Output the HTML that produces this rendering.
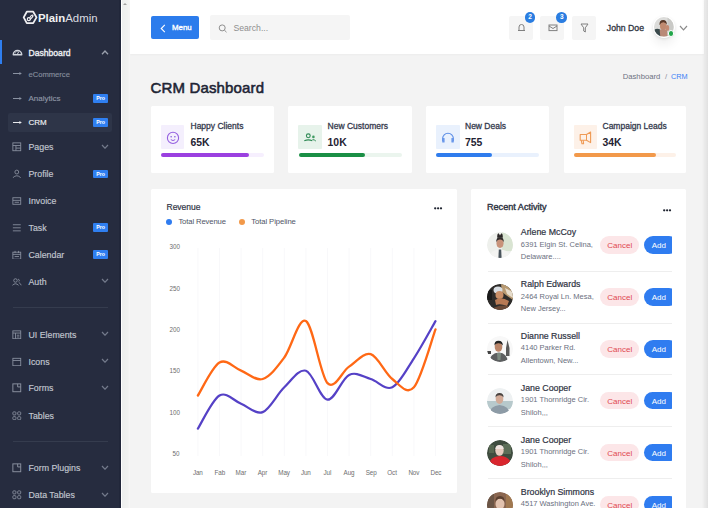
<!DOCTYPE html>
<html><head><meta charset="utf-8">
<style>
*{margin:0;padding:0;box-sizing:border-box}
html,body{width:708px;height:508px;overflow:hidden;background:#f3f3f3;font-family:"Liberation Sans",sans-serif}
.a{position:absolute}
.t{position:absolute;line-height:1;white-space:nowrap}
#sb{left:0;top:0;width:121px;height:508px;background:#262c3f;border-right:2px solid #21273a}
#trk{left:121px;top:0;width:9px;height:508px;background:linear-gradient(to right,#edefee,#f1f2f1 70%,#f7f7f7);border-left:1px solid #fff}
.mi{color:#c2c7d0;font-size:8.8px;left:28.5px;-webkit-text-stroke:.15px currentColor}
.ic{position:absolute;left:12.4px;width:9.6px;height:9.6px;margin-top:.7px}
.ar{position:absolute;left:12.5px;width:9px;height:11px}
.chev{position:absolute;left:101px;width:8px;height:5px}
.pro{position:absolute;left:93.2px;width:14.8px;height:8.6px;margin-top:.3px;background:#2f7ff0;border-radius:1px;color:#fff;font-size:5.3px;font-weight:bold;line-height:8.6px;text-align:center}
.div{position:absolute;left:13px;width:95px;height:1px;background:#353c4e}
#hdr{left:130px;top:0;width:574px;height:54px;background:#fff;box-shadow:0 1px 2px rgba(0,0,0,.03)}
#rs{left:702px;top:0;width:6px;height:508px;background:linear-gradient(to right,rgba(0,0,0,0),rgba(0,0,0,.035) 40%,rgba(0,0,0,.075))}
.card{position:absolute;background:#fff;border-radius:1.5px}
.ibox{position:absolute;width:23.5px;height:23.5px;border-radius:1px;margin-top:-.3px}
.st{font-size:8.5px;color:#363b4e;-webkit-text-stroke:.3px #363b4e}
.sv{font-size:10.4px;margin-top:1.5px;color:#1f2333;font-weight:bold}
.pb{position:absolute;height:3.5px;border-radius:2px}
.name{font-size:8.8px;color:#2f3443;left:520.8px;margin-top:.6px;-webkit-text-stroke:.2px #2f3443}
.addr{font-size:7.5px;color:#6b7080;left:520.8px}
.cancel{position:absolute;left:600.3px;width:39px;height:17.6px;margin-top:-.2px;border-radius:9px;background:#fce6e8;color:#e04850;font-size:8px;text-align:center;line-height:19px}
.add{position:absolute;left:643.7px;width:34px;height:17.6px;margin-top:-.2px;border-radius:9px;background:#2f7cf0;color:#fff;font-size:8px;text-align:left;padding-left:8px;line-height:19px}
.sep{position:absolute;left:487.5px;width:184px;height:1px;background:#eeeeee}
.av{position:absolute;left:486.5px;width:26px;height:26px;border-radius:50%}
.ml{font-size:6.3px;color:#6e6e6e;letter-spacing:-.1px}
</style></head><body>

<!-- sidebar -->
<div id="sb" class="a"></div>
<div id="trk" class="a"><div class="a" style="left:1.2px;top:3.3px;width:0;height:0;border-left:2.2px solid transparent;border-right:2.2px solid transparent;border-bottom:2.6px solid #a0a0a0"></div></div>

<!-- logo -->
<svg class="a" style="left:22px;top:10px" width="16" height="15" viewBox="0 0 16 15">
<path d="M4.8 1.7 L11.2 1.7 L14.5 7.4 L11.2 13.1 L4.8 13.1 L1.7 7.4 Z" fill="none" stroke="#f0f0f2" stroke-width="1.8" stroke-linejoin="round"/>
<circle cx="6.8" cy="9.2" r="1.5" fill="none" stroke="#f0f0f2" stroke-width="1.2"/>
<path d="M7.6 8 Q9 5.2 10.2 5 Q11.2 5.2 10.8 6.4 Q10 7.8 8 9.6" fill="none" stroke="#f0f0f2" stroke-width="1.2"/>
</svg>
<div class="t" style="left:38px;top:12.5px;font-size:11.4px;color:#f2f2f2;"><b>Plain</b><span style="color:#dcdde2">Admin</span></div>

<!-- active bar -->
<div class="a" style="left:0;top:40px;width:2px;height:24px;background:#2f7ff0"></div>
<svg class="ic" style="top:46px;left:12px;width:11px;height:11px;margin-top:0" viewBox="0 0 11 11"><path d="M1.3 8.8 A4.2 4.2 0 0 1 9.7 8.8 Z" fill="none" stroke="#d0d4dc" stroke-width="1.5" stroke-linejoin="round"/><path d="M5.5 8 L6.8 5.6" stroke="#d0d4dc" stroke-width="1"/><circle cx="3.6" cy="6.8" r=".5" fill="#d0d4dc"/><circle cx="5" cy="5.4" r=".5" fill="#d0d4dc"/></svg>
<div class="t mi" style="top:48.5px;font-size:8.6px;color:#eceef2;-webkit-text-stroke:.35px #eceef2">Dashboard</div>
<svg class="chev" style="top:49.5px" viewBox="0 0 8 5"><path d="M1 4.3 L4 1 L7 4.3" fill="none" stroke="#9aa0ad" stroke-width="1.3"/></svg>

<svg class="ar" style="top:68px" viewBox="0 0 9 11"><path d="M0 5.5 H7.5" stroke="#8a92a2" stroke-width="1"/><path d="M6.4 3.9 L8.8 5.5 L6.4 7.1 Z" fill="#8a92a2"/></svg>
<div class="t mi" style="top:71.3px;font-size:7.6px;color:#858d9c">eCommerce</div>

<svg class="ar" style="top:93px" viewBox="0 0 9 11"><path d="M0 5.5 H7.5" stroke="#8a92a2" stroke-width="1"/><path d="M6.4 3.9 L8.8 5.5 L6.4 7.1 Z" fill="#8a92a2"/></svg>
<div class="t mi" style="top:95.1px;font-size:8px;color:#8f97a6">Analytics</div>
<div class="pro" style="top:93.9px">Pro</div>

<div class="a" style="left:8px;top:113.4px;width:104px;height:18.6px;background:#2e3548;border-radius:2px"></div>
<svg class="ar" style="top:117px" viewBox="0 0 9 11"><path d="M0 5.5 H7.5" stroke="#e8eaee" stroke-width="1"/><path d="M6.4 3.9 L8.8 5.5 L6.4 7.1 Z" fill="#e8eaee"/></svg>
<div class="t mi" style="top:119.2px;font-size:8px;color:#f0f2f5">CRM</div>
<div class="pro" style="top:118px">Pro</div>

<!-- Pages -->
<svg class="ic" style="top:141.5px" viewBox="0 0 11 11"><rect x="1" y="1" width="9" height="9" fill="none" stroke="#8a91a0" stroke-width="1"/><path d="M1 4 H10 M4.5 4 V10 M4.5 7 H10" stroke="#8a91a0" stroke-width="1"/></svg>
<div class="t mi" style="top:143.2px">Pages</div>
<svg class="chev" style="top:143.7px" viewBox="0 0 8 5"><path d="M1 1 L4 4.2 L7 1" fill="none" stroke="#737a8b" stroke-width="1.2"/></svg>

<svg class="ic" style="top:168.2px" viewBox="0 0 11 11"><circle cx="5.5" cy="3.5" r="2.2" fill="none" stroke="#8a91a0" stroke-width="1"/><path d="M1 10 Q5.5 5.5 10 10" fill="none" stroke="#8a91a0" stroke-width="1"/></svg>
<div class="t mi" style="top:169.9px">Profile</div>
<div class="pro" style="top:169.3px">Pro</div>

<svg class="ic" style="top:195.3px" viewBox="0 0 11 11"><rect x="1" y="2" width="9" height="7.5" fill="none" stroke="#8a91a0" stroke-width="1"/><path d="M1 5 H10 M3 7.2 H8" stroke="#8a91a0" stroke-width="1"/></svg>
<div class="t mi" style="top:197.0px">Invoice</div>

<svg class="ic" style="top:222px" viewBox="0 0 11 11"><path d="M1 2 H10 M1 5.5 H10 M1 9 H10" stroke="#8a91a0" stroke-width="1"/></svg>
<div class="t mi" style="top:223.7px">Task</div>
<div class="pro" style="top:222.7px">Pro</div>

<svg class="ic" style="top:249px" viewBox="0 0 11 11"><rect x="1" y="2.5" width="9" height="8" fill="none" stroke="#8a91a0" stroke-width="1"/><path d="M1 5 H10 M3.5 1 V3.5 M7.5 1 V3.5 M3 7.5 H8" stroke="#8a91a0" stroke-width="1"/></svg>
<div class="t mi" style="top:250.8px">Calendar</div>
<div class="pro" style="top:249.7px">Pro</div>

<svg class="ic" style="top:276.2px" viewBox="0 0 11 11"><circle cx="4" cy="4" r="2" fill="none" stroke="#8a91a0" stroke-width="1"/><path d="M0.5 9.5 Q4 6 7.5 9.5 M7 2.5 A1.6 1.6 0 0 1 7.5 5.5 M8 6.5 Q10 7.5 10.5 9.5" fill="none" stroke="#8a91a0" stroke-width="1"/></svg>
<div class="t mi" style="top:277.9px">Auth</div>
<svg class="chev" style="top:278.4px" viewBox="0 0 8 5"><path d="M1 1 L4 4.2 L7 1" fill="none" stroke="#737a8b" stroke-width="1.2"/></svg>

<div class="div" style="top:307px"></div>

<svg class="ic" style="top:329px" viewBox="0 0 11 11"><rect x="1" y="1" width="9" height="9" fill="none" stroke="#8a91a0" stroke-width="1"/><path d="M1 3.5 H10 M4 3.5 V10 M5.5 6 H8.5 M5.5 8 H8.5" stroke="#8a91a0" stroke-width="1"/></svg>
<div class="t mi" style="top:330.8px">UI Elements</div>
<svg class="chev" style="top:331.3px" viewBox="0 0 8 5"><path d="M1 1 L4 4.2 L7 1" fill="none" stroke="#737a8b" stroke-width="1.2"/></svg>

<svg class="ic" style="top:356.2px" viewBox="0 0 11 11"><rect x="1" y="1.5" width="9" height="8.5" fill="none" stroke="#8a91a0" stroke-width="1"/><path d="M1 4 H10" stroke="#8a91a0" stroke-width="1"/></svg>
<div class="t mi" style="top:357.9px">Icons</div>
<svg class="chev" style="top:358.4px" viewBox="0 0 8 5"><path d="M1 1 L4 4.2 L7 1" fill="none" stroke="#737a8b" stroke-width="1.2"/></svg>

<svg class="ic" style="top:382.3px" viewBox="0 0 11 11"><rect x="1" y="1" width="9" height="9" fill="none" stroke="#8a91a0" stroke-width="1.1"/><path d="M6.5 1 V4.5 H10" fill="none" stroke="#8a91a0" stroke-width="1.1"/></svg>
<div class="t mi" style="top:384.0px">Forms</div>
<svg class="chev" style="top:384.5px" viewBox="0 0 8 5"><path d="M1 1 L4 4.2 L7 1" fill="none" stroke="#737a8b" stroke-width="1.2"/></svg>

<svg class="ic" style="top:409.9px" viewBox="0 0 11 11"><rect x="1" y="1" width="3.5" height="3.5" rx="1" fill="none" stroke="#8a91a0" stroke-width="1"/><rect x="6.5" y="1" width="3.5" height="3.5" rx="1" fill="none" stroke="#8a91a0" stroke-width="1"/><rect x="1" y="6.5" width="3.5" height="3.5" rx="1" fill="none" stroke="#8a91a0" stroke-width="1"/><rect x="6.5" y="6.5" width="3.5" height="3.5" rx="1" fill="none" stroke="#8a91a0" stroke-width="1"/></svg>
<div class="t mi" style="top:411.6px">Tables</div>

<div class="div" style="top:441px"></div>

<svg class="ic" style="top:462.6px" viewBox="0 0 11 11"><rect x="1" y="1" width="9" height="9" fill="none" stroke="#8a91a0" stroke-width="1.1"/><path d="M6.5 1 V4.5 H10" fill="none" stroke="#8a91a0" stroke-width="1.1"/></svg>
<div class="t mi" style="top:464.3px">Form Plugins</div>
<svg class="chev" style="top:464.8px" viewBox="0 0 8 5"><path d="M1 1 L4 4.2 L7 1" fill="none" stroke="#737a8b" stroke-width="1.2"/></svg>

<svg class="ic" style="top:489.4px" viewBox="0 0 11 11"><rect x="1" y="1" width="3.5" height="3.5" rx="1" fill="none" stroke="#8a91a0" stroke-width="1"/><rect x="6.5" y="1" width="3.5" height="3.5" rx="1" fill="none" stroke="#8a91a0" stroke-width="1"/><rect x="1" y="6.5" width="3.5" height="3.5" rx="1" fill="none" stroke="#8a91a0" stroke-width="1"/><rect x="6.5" y="6.5" width="3.5" height="3.5" rx="1" fill="none" stroke="#8a91a0" stroke-width="1"/></svg>
<div class="t mi" style="top:491.1px">Data Tables</div>
<svg class="chev" style="top:491.6px" viewBox="0 0 8 5"><path d="M1 1 L4 4.2 L7 1" fill="none" stroke="#737a8b" stroke-width="1.2"/></svg>

<!-- header -->
<div id="hdr" class="a"></div>
<div class="a" style="left:150.5px;top:15.9px;width:48.7px;height:23px;background:#2c7cec;border-radius:2px"></div>
<svg class="a" style="left:159.5px;top:23.5px" width="7" height="9" viewBox="0 0 7 9"><path d="M4.8 0.8 L1.2 4.5 L4.8 8.2" fill="none" stroke="#fff" stroke-width="1.1"/></svg>
<div class="t" style="left:172px;top:24px;font-size:7.9px;color:#fff;-webkit-text-stroke:.35px #fff">Menu</div>

<div class="a" style="left:209.5px;top:15.2px;width:140px;height:25px;background:#f5f5f5;border-radius:2px"></div>
<svg class="a" style="left:217.5px;top:23.5px" width="10" height="9" viewBox="0 0 10 9"><circle cx="4.2" cy="3.9" r="3" fill="none" stroke="#8e8e8e" stroke-width="1"/><path d="M6.4 6.1 L8.5 8.2" stroke="#8e8e8e" stroke-width="1"/></svg>
<div class="t" style="left:233.4px;top:23.9px;font-size:8.7px;color:#8f8f8f">Search...</div>

<!-- icons -->
<div class="a" style="left:509px;top:15.6px;width:24.2px;height:24px;background:#f5f5f5;border-radius:2px"></div>
<svg class="a" style="left:516.5px;top:23px" width="9" height="9" viewBox="0 0 9 9"><path d="M1 7.5 H8 M2 7.5 V4 A2.5 2.5 0 0 1 7 4 V7.5" fill="none" stroke="#808080" stroke-width="1"/></svg>
<div class="a" style="left:524.7px;top:12.1px;width:10.6px;height:10.6px;border-radius:50%;background:#2a7de1;color:#fff;font-size:6.5px;font-weight:bold;text-align:center;line-height:10.6px">2</div>

<div class="a" style="left:540.3px;top:15.6px;width:24px;height:24px;background:#f5f5f5;border-radius:2px"></div>
<svg class="a" style="left:547.8px;top:24px" width="10" height="8" viewBox="0 0 10 8"><rect x="1" y="1" width="8" height="5.6" fill="none" stroke="#808080" stroke-width="1"/><path d="M1 2 L5 4.5 L9 2" fill="none" stroke="#808080" stroke-width="1"/></svg>
<div class="a" style="left:556.4px;top:12.1px;width:10.6px;height:10.6px;border-radius:50%;background:#2a7de1;color:#fff;font-size:6.5px;font-weight:bold;text-align:center;line-height:10.6px">3</div>

<div class="a" style="left:572px;top:15.6px;width:24.3px;height:24px;background:#f5f5f5;border-radius:2px"></div>
<svg class="a" style="left:579.5px;top:22.5px" width="9" height="10" viewBox="0 0 9 10"><path d="M1 1 H8 L5.3 4.8 V9 L3.7 8 V4.8 Z" fill="none" stroke="#808080" stroke-width="1" stroke-linejoin="round"/></svg>

<div class="t" style="left:606.8px;top:24.3px;font-size:8.7px;color:#2f3542;-webkit-text-stroke:.3px #2f3542">John Doe</div>
<div class="a" style="left:653.3px;top:16.1px;width:21.6px;height:21.6px;border-radius:50%;background:#fff;box-shadow:0 1px 3px rgba(0,0,0,.1),0 7px 10px rgba(0,0,0,.06)"></div>
<svg class="a" style="left:654.2px;top:17px" width="19.8" height="19.8" viewBox="0 0 19 19"><defs><clipPath id="ch"><circle cx="9.5" cy="9.5" r="9.5"/></clipPath></defs><g clip-path="url(#ch)"><rect width="19" height="19" fill="#dcdcda"/><rect x="13" y="0" width="6" height="19" fill="#c9c9c6"/><path d="M0 19 L0.5 12 Q3 10.5 6 12 L7 19 Z" fill="#3a4a4c"/><ellipse cx="8.8" cy="8.6" rx="3.1" ry="4" fill="#c08a70"/><path d="M5.3 7.8 Q4.8 2.8 8.8 2.8 Q12.6 2.8 12.3 7.4 Q11 4.8 8.8 5 Q6.8 5 5.3 7.8 Z" fill="#5a3a2a"/><path d="M5.5 12.5 Q9 11 12.5 12.5 L13 19 L6 19 Z" fill="#b98a78"/><ellipse cx="12.8" cy="10.5" rx="1.8" ry="2.8" fill="#c48c74"/></g></svg>
<div class="a" style="left:667.6px;top:30.2px;width:6.8px;height:6.8px;border-radius:50%;background:#22a64a;border:1px solid #fff"></div>
<svg class="a" style="left:678.5px;top:24.5px" width="9" height="6" viewBox="0 0 9 6"><path d="M1 1 L4.5 4.8 L8 1" fill="none" stroke="#8a8a8a" stroke-width="1.15"/></svg>

<!-- title -->
<div class="t" style="left:150.5px;top:79.5px;font-size:15px;color:#1d2434;-webkit-text-stroke:.55px #1d2434;letter-spacing:.15px">CRM Dashboard</div>
<div class="t" style="left:622.7px;top:72.6px;font-size:7.7px;color:#6d7282">Dashboard</div>
<div class="t" style="left:665px;top:72.6px;font-size:7.7px;color:#8d919c">/</div>
<div class="t" style="left:671px;top:72.8px;font-size:7.3px;color:#3b82f6">CRM</div>

<!-- stat cards -->
<div class="card" style="left:151px;top:105.5px;width:123px;height:67px"></div>
<div class="ibox" style="left:160.8px;top:125.3px;background:#f4effd"></div>
<svg class="a" style="left:166px;top:130.5px" width="14" height="14" viewBox="0 0 14 14"><circle cx="7" cy="6.9" r="5.6" fill="none" stroke="#9560e0" stroke-width="1.1"/><circle cx="5.1" cy="5.7" r=".75" fill="#7a4fd6"/><circle cx="8.9" cy="5.7" r=".75" fill="#7a4fd6"/><path d="M4.8 8.6 Q7 10.6 9.2 8.6" fill="none" stroke="#9560e0" stroke-width="1"/></svg>
<div class="t st" style="left:190.5px;top:121.8px">Happy Clients</div>
<div class="t sv" style="left:190.5px;top:136.2px">65K</div>
<div class="pb" style="left:161.2px;top:153.4px;width:102.4px;background:#f6effe"></div>
<div class="pb" style="left:161.2px;top:153.4px;width:87.6px;background:#9b40e0"></div>

<div class="card" style="left:288px;top:105.5px;width:124px;height:67px"></div>
<div class="ibox" style="left:298.2px;top:125.3px;background:#e7f3eb"></div>
<svg class="a" style="left:303px;top:130.5px" width="14" height="14" viewBox="0 0 14 14"><circle cx="5.3" cy="4.8" r="1.9" fill="none" stroke="#2f8a55" stroke-width="1.1"/><path d="M1.3 9.8 Q5.3 8 9.3 9.8" fill="none" stroke="#2f8a55" stroke-width="1.1"/><circle cx="10.4" cy="5.9" r="1.3" fill="#3f9a60"/><path d="M9.5 8.6 Q11.5 8.6 12.8 10" fill="none" stroke="#2f8a55" stroke-width="1"/></svg>
<div class="t st" style="left:327.6px;top:121.8px">New Customers</div>
<div class="t sv" style="left:327.6px;top:136.2px">10K</div>
<div class="pb" style="left:298.7px;top:153.4px;width:103.1px;background:#ebf5ee"></div>
<div class="pb" style="left:298.7px;top:153.4px;width:66.3px;background:#1a8f45"></div>

<div class="card" style="left:426.3px;top:105.5px;width:122.5px;height:67px"></div>
<div class="ibox" style="left:436px;top:125.3px;background:#e9f1fd"></div>
<svg class="a" style="left:441px;top:130.5px" width="14" height="14" viewBox="0 0 14 14"><path d="M1.6 10 V7.6 A5.4 5.4 0 0 1 12.4 7.6 V10" fill="none" stroke="#5b8de6" stroke-width="1.1"/><rect x="1.2" y="7" width="2.4" height="4.6" rx=".6" fill="#6a98ea"/><rect x="10.4" y="7" width="2.4" height="4.6" rx=".6" fill="#6a98ea"/></svg>
<div class="t st" style="left:465px;top:121.8px">New Deals</div>
<div class="t sv" style="left:465px;top:136.2px">755</div>
<div class="pb" style="left:436px;top:153.4px;width:102.6px;background:#e9f1fd"></div>
<div class="pb" style="left:436px;top:153.4px;width:56.3px;background:#2f7ced"></div>

<div class="card" style="left:563.6px;top:105.5px;width:122.8px;height:67px"></div>
<div class="ibox" style="left:573.5px;top:125.3px;background:#fdf1e8"></div>
<svg class="a" style="left:578.5px;top:130.5px" width="14" height="14" viewBox="0 0 14 14"><path d="M1.2 3.5 H7.5 L11.6 1 V11.6 L7.5 9.2 H1.2 Z" fill="none" stroke="#ef9a55" stroke-width="1.1" stroke-linejoin="round"/><path d="M7.5 3.5 V9.2" stroke="#ef9a55" stroke-width="1"/><path d="M2.2 9.2 L3 12.8 H4.6 L4.2 9.2" fill="none" stroke="#ef9a55" stroke-width="1.1" stroke-linejoin="round"/></svg>
<div class="t st" style="left:602.5px;top:121.8px">Campaign Leads</div>
<div class="t sv" style="left:602.5px;top:136.2px">34K</div>
<div class="pb" style="left:573.5px;top:153.4px;width:102.5px;background:#fdf1e8"></div>
<div class="pb" style="left:573.5px;top:153.4px;width:82.5px;background:#f2994a"></div>

<!-- revenue card -->
<div class="card" style="left:151px;top:188.6px;width:305.6px;height:304.2px"></div>
<div class="t" style="left:166.5px;top:202.8px;font-size:8.5px;color:#2f3445;-webkit-text-stroke:.2px #2f3445">Revenue</div>
<svg class="a" style="left:433px;top:206px" width="10" height="5" viewBox="0 0 10 5"><circle cx="2.2" cy="2.3" r="1.15" fill="#1f2430"/><circle cx="5.1" cy="2.3" r="1.15" fill="#1f2430"/><circle cx="8" cy="2.3" r="1.15" fill="#1f2430"/></svg>
<div class="a" style="left:166.4px;top:218.8px;width:6px;height:6px;border-radius:50%;background:#2f7cf0"></div>
<div class="t" style="left:178.4px;top:218px;font-size:7.7px;color:#4f5466;letter-spacing:-.13px">Total Revenue</div>
<div class="a" style="left:238.7px;top:218.8px;width:6px;height:6px;border-radius:50%;background:#f2994a"></div>
<div class="t" style="left:251.2px;top:218px;font-size:7.7px;color:#4f5466;letter-spacing:-.08px">Total Pipeline</div>

<svg class="a" style="left:0;top:0" width="708" height="508">
<g stroke="#f8f8fa" stroke-width="1">
<path d="M197.9 248 V456 M219.5 248 V456 M241.1 248 V456 M262.7 248 V456 M284.3 248 V456 M305.9 248 V456 M327.5 248 V456 M349.1 248 V456 M370.7 248 V456 M392.3 248 V456 M413.9 248 V456 M435.5 248 V456"/>
</g>
<path d="M197.9,428.6 C201.5,423.1 212.3,399.7 219.5,395.5 C226.7,391.4 233.9,401.0 241.1,403.8 C248.3,406.5 255.5,414.8 262.7,412.1 C269.9,409.3 277.1,394.1 284.3,387.3 C291.5,380.4 298.7,368.7 305.9,370.7 C313.1,372.8 320.3,399.0 327.5,399.7 C334.7,400.3 341.9,378.3 349.1,374.9 C356.3,371.4 363.5,376.9 370.7,379.0 C377.9,381.1 385.1,390.7 392.3,387.3 C399.5,383.8 406.7,369.3 413.9,358.3 C421.1,347.3 431.9,327.3 435.5,321.1" fill="none" stroke="#5541c6" stroke-width="2.2" stroke-linecap="round"/>
<path d="M197.9,395.5 C201.5,390.0 212.3,366.6 219.5,362.5 C226.7,358.3 233.9,368.0 241.1,370.7 C248.3,373.5 255.5,381.2 262.7,379.0 C269.9,376.8 277.1,367.1 284.3,357.5 C291.5,347.8 298.7,316.8 305.9,321.1 C313.1,325.4 320.3,375.5 327.5,383.1 C334.7,390.7 341.9,371.4 349.1,366.6 C356.3,361.8 363.5,352.1 370.7,354.2 C377.9,356.3 385.1,373.5 392.3,379.0 C399.5,384.5 406.7,395.5 413.9,387.3 C421.1,379.0 431.9,339.0 435.5,329.4" fill="none" stroke="#ff6815" stroke-width="2.3" stroke-linecap="round"/>
</svg>
<div class="t ml" style="left:169.6px;top:244.3px">300</div>
<div class="t ml" style="left:169.6px;top:285.7px">250</div>
<div class="t ml" style="left:169.6px;top:327.0px">200</div>
<div class="t ml" style="left:169.6px;top:368.3px">150</div>
<div class="t ml" style="left:169.6px;top:409.7px">100</div>
<div class="t ml" style="left:172.6px;top:451.0px">50</div>
<div class="t ml" style="left:192.9px;top:470.3px">Jan</div>
<div class="t ml" style="left:214.5px;top:470.3px">Fab</div>
<div class="t ml" style="left:235.6px;top:470.3px">Mar</div>
<div class="t ml" style="left:257.7px;top:470.3px">Apr</div>
<div class="t ml" style="left:278.3px;top:470.3px">May</div>
<div class="t ml" style="left:300.9px;top:470.3px">Jun</div>
<div class="t ml" style="left:323.5px;top:470.3px">Jul</div>
<div class="t ml" style="left:343.6px;top:470.3px">Aug</div>
<div class="t ml" style="left:365.7px;top:470.3px">Sep</div>
<div class="t ml" style="left:387.3px;top:470.3px">Oct</div>
<div class="t ml" style="left:408.4px;top:470.3px">Nov</div>
<div class="t ml" style="left:430.5px;top:470.3px">Dec</div>

<!-- activity card -->
<div class="card" style="left:471px;top:188.6px;width:215px;height:330px"></div>
<div class="t" style="left:487px;top:202.5px;font-size:9.1px;color:#2f3443;-webkit-text-stroke:.4px #2f3443">Recent Activity</div>
<svg class="a" style="left:662px;top:207.6px" width="10" height="5" viewBox="0 0 10 5"><circle cx="2.2" cy="2.3" r="1.15" fill="#1f2430"/><circle cx="5.1" cy="2.3" r="1.15" fill="#1f2430"/><circle cx="8" cy="2.3" r="1.15" fill="#1f2430"/></svg>

<div class="a" style="left:471px;top:189px;width:200.6px;height:330px;overflow:hidden">
<div class="a" style="left:-471px;top:-189px;width:708px;height:519px">

<svg class="av" style="top:232.40px" viewBox="0 0 26 26"><defs><clipPath id="c1"><circle cx="13" cy="13" r="13"/></clipPath></defs><g clip-path="url(#c1)"><rect width="26" height="26" fill="#eef0ec"/><rect x="15" y="0" width="11" height="19" fill="#d9e4d2"/><path d="M2 26 Q3 18 13 17.5 Q23 18 24 26 Z" fill="#f4f4f2"/><path d="M11.8 17.5 L14.2 17.5 L14.6 26 L11.4 26 Z" fill="#4a545c"/><ellipse cx="13" cy="11.3" rx="3.5" ry="4.6" fill="#c8937a"/><path d="M9.3 10.5 Q8.8 5.2 13 5.2 Q17.2 5.2 16.7 10.5 Q16 7.6 13 7.6 Q10 7.6 9.3 10.5 Z" fill="#2f2a2a"/><path d="M10.2 5.8 Q10 1.5 11.6 1.2 Q12.6 2.8 13 3.5 Q13.4 2.8 14.4 1.2 Q16 1.5 15.8 5.8 Z" fill="#2a2626"/></g></svg>
<div class="t name" style="top:227.80px">Arlene McCoy</div>
<div class="t addr" style="top:240.70px">6391 Elgin St. Celina,</div>
<div class="t addr" style="top:253.20px">Delaware....</div>
<div class="cancel" style="top:236.50px">Cancel</div>
<div class="add" style="top:236.50px">Add</div>
<div class="sep" style="top:270.70px"></div>

<svg class="av" style="top:284.25px" viewBox="0 0 26 26"><defs><clipPath id="c2"><circle cx="13" cy="13" r="13"/></clipPath></defs><g clip-path="url(#c2)"><rect width="26" height="26" fill="#2e2c2a"/><path d="M14 0 H26 V16 Q20 12 15 8 Z" fill="#b89a72"/><path d="M18 4 L26 8 V14 L20 10 Z" fill="#e6dccb"/><ellipse cx="11" cy="6" rx="4.5" ry="3.5" fill="#d8dde2"/><ellipse cx="12.5" cy="11" rx="4" ry="4" fill="#c98f68"/><path d="M8 16 Q14 12 22 17 L20 22 Q13 19 9 21 Z" fill="#b87a55"/><path d="M4 26 Q10 20 22 22 L22 26 Z" fill="#6b4a38"/><rect x="0" y="6" width="5" height="10" fill="#1a1a1a"/></g></svg>
<div class="t name" style="top:279.65px">Ralph Edwards</div>
<div class="t addr" style="top:292.55px">2464 Royal Ln. Mesa,</div>
<div class="t addr" style="top:305.05px">New Jersey...</div>
<div class="cancel" style="top:288.35px">Cancel</div>
<div class="add" style="top:288.35px">Add</div>
<div class="sep" style="top:322.55px"></div>

<svg class="av" style="top:336.10px" viewBox="0 0 26 26"><defs><clipPath id="c3"><circle cx="13" cy="13" r="13"/></clipPath></defs><g clip-path="url(#c3)"><rect width="26" height="26" fill="#f8f8f8"/><path d="M20.5 4 L22.5 12 L22.5 20 L19 20 L19 12 Z" fill="#5a5a5a"/><path d="M2 26 Q3 17 12 16.5 Q20 17 21 26 Z" fill="#5d5f60"/><path d="M10 17 L14 17 L13.5 24 L10.5 24 Z" fill="#7d8a80"/><ellipse cx="11.5" cy="11" rx="3.8" ry="4.8" fill="#b98468"/><path d="M7.5 9.5 Q7 5 11.5 4.8 Q16 5 15.8 9.5 Q14 7 11.5 7.2 Q9 7 7.5 9.5 Z" fill="#222"/><rect x="0" y="15" width="4" height="3" fill="#444"/></g></svg>
<div class="t name" style="top:331.50px">Dianne Russell</div>
<div class="t addr" style="top:344.40px">4140 Parker Rd.</div>
<div class="t addr" style="top:356.90px">Allentown, New...</div>
<div class="cancel" style="top:340.20px">Cancel</div>
<div class="add" style="top:340.20px">Add</div>
<div class="sep" style="top:374.40px"></div>

<svg class="av" style="top:387.95px" viewBox="0 0 26 26"><defs><clipPath id="c4"><circle cx="13" cy="13" r="13"/></clipPath></defs><g clip-path="url(#c4)"><rect width="26" height="26" fill="#eef1f2"/><rect x="0" y="13" width="26" height="8" fill="#b7c9cc"/><path d="M2 26 Q3 18 12.5 17 Q22 18 23 26 Z" fill="#8d9ba6"/><ellipse cx="12.5" cy="11" rx="3.8" ry="5" fill="#d2ab98"/><path d="M8.5 9.5 Q8.3 5 12.5 5 Q16.8 5 16.5 9.5 Q15 7 12.5 7.2 Q10 7 8.5 9.5 Z" fill="#4a4340"/></g></svg>
<div class="t name" style="top:383.35px">Jane Cooper</div>
<div class="t addr" style="top:396.25px">1901 Thornridge Cir.</div>
<div class="t addr" style="top:408.75px">Shiloh,,,</div>
<div class="cancel" style="top:392.05px">Cancel</div>
<div class="add" style="top:392.05px">Add</div>
<div class="sep" style="top:426.25px"></div>

<svg class="av" style="top:439.80px" viewBox="0 0 26 26"><defs><clipPath id="c5"><circle cx="13" cy="13" r="13"/></clipPath></defs><g clip-path="url(#c5)"><rect width="26" height="26" fill="#3f4c3f"/><rect x="16" y="4" width="8" height="10" fill="#5c6e58"/><rect x="2" y="5" width="5" height="8" fill="#566650"/><path d="M1 26 Q3 16 13 16 Q23 16 25 26 Z" fill="#d9262e"/><ellipse cx="12.5" cy="10.5" rx="4.2" ry="5.2" fill="#e6ccc0"/><path d="M8.3 9 Q8.5 5 12.5 5 Q16.5 5 16.7 9 Z" fill="#f0e4e0"/></g></svg>
<div class="t name" style="top:435.20px">Jane Cooper</div>
<div class="t addr" style="top:448.10px">1901 Thornridge Cir.</div>
<div class="t addr" style="top:460.60px">Shiloh,,,</div>
<div class="cancel" style="top:443.90px">Cancel</div>
<div class="add" style="top:443.90px">Add</div>
<div class="sep" style="top:478.10px"></div>

<svg class="av" style="top:491.65px" viewBox="0 0 26 26"><defs><clipPath id="c6"><circle cx="13" cy="13" r="13"/></clipPath></defs><g clip-path="url(#c6)"><rect width="26" height="26" fill="#8a6650"/><rect x="0" y="0" width="7" height="26" fill="#6b5545"/><rect x="19" y="0" width="7" height="26" fill="#a07850"/><ellipse cx="13" cy="12" rx="4.5" ry="5.5" fill="#e2c2ae"/><path d="M8.5 10 Q8 4 13 4 Q18 4 17.5 10 Q16 6.5 13 6.8 Q10 6.5 8.5 10 Z" fill="#5a4030"/></g></svg>
<div class="t name" style="top:487.05px">Brooklyn Simmons</div>
<div class="t addr" style="top:499.95px">4517 Washington Ave.</div>
<div class="cancel" style="top:495.75px">Cancel</div>
<div class="add" style="top:495.75px">Add</div>
</div></div>

<div id="rs" class="a"></div>
</body></html>
